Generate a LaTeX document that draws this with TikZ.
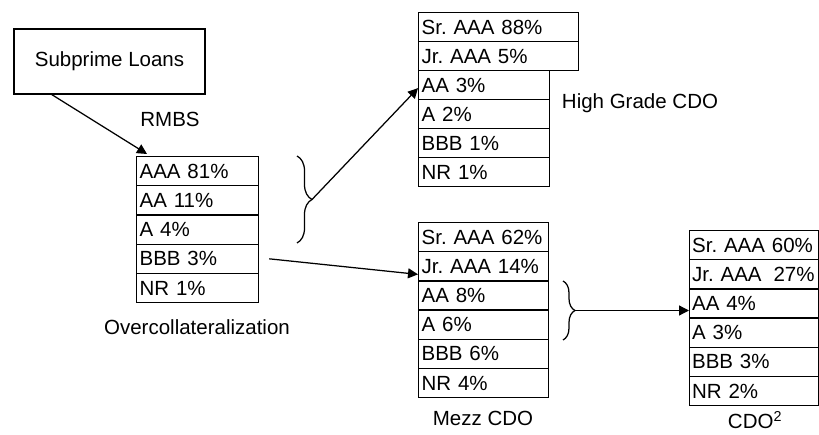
\documentclass[tikz,border=0pt]{standalone}
\usepackage{fontspec}
\setmainfont{Liberation Sans}
\usetikzlibrary{arrows.meta,decorations.pathreplacing,calc}
\begin{document}
\begin{tikzpicture}[x=1pt,y=-1pt,
  every node/.style={font=\fontsize{20.5}{24}\selectfont\frenchspacing},
  cell/.style={draw, line width=1.25pt, anchor=north west, inner xsep=3pt, inner ysep=0pt, align=left},
  ocell/.style={cell, text width=116pt, minimum height=29.2pt},
  hwide/.style={cell, text width=154pt, minimum height=29pt},
  hcell/.style={cell, text width=125pt, minimum height=29pt},
  mcell/.style={cell, text width=124pt, minimum height=29.17pt},
  ccell/.style={cell, text width=124pt, inner xsep=2.5pt, minimum height=29.17pt},
  arr/.style={line width=1.25pt, -{Triangle[length=10pt,width=10pt]}},
  bracestyle/.style={line width=1.25pt, decorate},
  lbl/.style={inner sep=0pt}
]
\useasboundingbox (0,0) rectangle (819,435);

% Subprime loans
\node[draw, line width=1.25pt, minimum width=191pt, minimum height=65pt, inner sep=0pt] (sub) at (109.5,61.5) {Subprime Loans};
\node[lbl] (rmbs) at (170,119) {RMBS};

% Overcollateralization
\node[ocell] (oc1) at (136,156) {AAA 81\%};
\node[ocell] (oc2) at (136,185.2) {AA 11\%};
\node[ocell] (oc3) at (136,214.4) {A 4\%};
\node[ocell] (oc4) at (136,243.6) {BBB 3\%};
\node[ocell] (oc5) at (136,272.8) {NR 1\%};
\node[lbl] (ocl) at (197,327) {Overcollateralization};

% High grade CDO
\node[hwide] (hg1) at (418,12) {Sr. AAA 88\%};
\node[hwide] (hg2) at (418,41) {Jr. AAA 5\%};
\node[hcell] (hg3) at (418,70) {AA 3\%};
\node[hcell] (hg4) at (418,99) {A 2\%};
\node[hcell] (hg5) at (418,128) {BBB 1\%};
\node[hcell] (hg6) at (418,157) {NR 1\%};
\node[lbl] (hgl) at (640,103) {High Grade CDO};

% Mezz CDO
\node[mcell] (mz1) at (418,222) {Sr. AAA 62\%};
\node[mcell] (mz2) at (418,251.17) {Jr. AAA 14\%};
\node[mcell] (mz3) at (418,280.33) {AA 8\%};
\node[mcell] (mz4) at (418,309.5) {A 6\%};
\node[mcell] (mz5) at (418,338.67) {BBB 6\%};
\node[mcell] (mz6) at (418,367.83) {NR 4\%};
\node[lbl] (mzl) at (483,418) {Mezz CDO};

% CDO squared
\node[ccell] (c1) at (689,230) {Sr. AAA 60\%};
\node[ccell] (c2) at (689,259.17) {\mbox{Jr. AAA\hspace{0.25em} 27\%}};
\node[ccell] (c3) at (689,288.33) {AA 4\%};
\node[ccell] (c4) at (689,317.5) {A 3\%};
\node[ccell] (c5) at (689,346.67) {BBB 3\%};
\node[ccell] (c6) at (689,375.83) {NR 2\%};
\node[lbl] (cl) at (755,420) {CDO\textsuperscript{2}};

% braces
\draw[bracestyle, decoration={brace, amplitude=15pt}] (297,156) -- (297,243);
\coordinate (b1) at (312,199.5);
\draw[bracestyle, decoration={brace, amplitude=12pt}] (563,281) -- (563,340);
\coordinate (b2) at (575,310.5);

% arrows
\coordinate (rmtip) at (147,154);
\draw[arr] ($(sub.south west)!0.2!(sub.south east)$) -- (rmtip);
\draw[arr] (b1) -- ([yshift=-3pt]hg3.west);
\draw[arr] ($(oc4.east)+(10,0)$) -- ([yshift=-8pt]mz2.west);
\draw[arr] (b2) -- (b2 -| c3.west);
\end{tikzpicture}
\end{document}
